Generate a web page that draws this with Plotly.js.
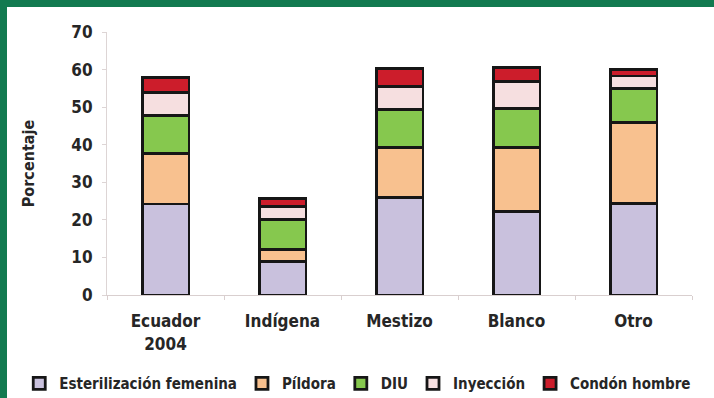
<!DOCTYPE html>
<html>
<head>
<meta charset="utf-8">
<script src="https://cdn.plot.ly/plotly-3.0.1.min.js"></script>
<style>
  html, body { margin: 0; padding: 0; background: #ffffff; }
  #frame {
    position: absolute; left: 0; top: 0; width: 707px; height: 391px;
    border-left: 7px solid #127a50; border-top: 7px solid #127a50;
    background: #ffffff;
  }
  #chart { width: 707px; height: 391px; }
</style>
</head>
<body>
<div id="frame"><div id="chart"></div></div>
<script>
// Uso de métodos anticonceptivos por autoidentificación étnica (%)
const categories = ["Ecuador<br>2004", "Indígena", "Mestizo", "Blanco", "Otro"];
const esterilizacion = [24.2, 9.0, 26.0, 22.2, 24.4];
const pildora        = [13.5, 3.2, 13.3, 17.0, 21.6];
const diu            = [10.0, 7.8, 10.1, 10.5, 9.0];
const inyeccion      = [6.2, 3.5, 6.2, 7.1, 3.3];
const condon         = [4.0, 2.2, 4.7, 3.8, 1.8];
const yTicks = [0, 10, 20, 30, 40, 50, 60, 70];

const FONT = '"DejaVu Sans Condensed", "DejaVu Sans", sans-serif';
const INK = '#262626';

function serie(name, values, color) {
  return {
    type: 'bar', name: name, x: categories, y: values,
    width: 0.4,
    marker: { color: color, line: { color: '#161616', width: 2.8 } },
    hoverinfo: 'name+y'
  };
}

const data = [
  serie('Esterilización femenina', esterilizacion, '#c9c1dd'),
  serie('Píldora', pildora, '#f8c18f'),
  serie('DIU', diu, '#86c84e'),
  serie('Inyección', inyeccion, '#f6dfe0'),
  serie('Condón hombre', condon, '#cc1d2b')
];

const layout = {
  width: 707, height: 391,
  margin: { l: 100, r: 22, t: 25, b: 103, autoexpand: false },
  paper_bgcolor: '#ffffff', plot_bgcolor: '#ffffff',
  barmode: 'stack',
  showlegend: true,
  font: { family: FONT, size: 15, color: INK, weight: 'bold' },
  xaxis: {
    type: 'category', range: [-0.5, 4.5],
    showline: true, linecolor: '#d9cfcf', linewidth: 1,
    ticks: 'outside', tickson: 'boundaries', ticklen: 4, tickcolor: '#d9cfcf',
    ticklabelstandoff: 11,
    showgrid: false, zeroline: false,
    tickfont: { family: FONT, size: 17, color: INK, weight: 'bold' }
  },
  yaxis: {
    range: [0, 70], tickvals: yTicks, ticktext: yTicks.map(String),
    showline: true, linecolor: '#ddd5d5', linewidth: 1,
    ticks: 'outside', ticklen: 4, tickcolor: '#ddd5d5',
    ticklabelstandoff: 6,
    showgrid: false, zeroline: false,
    tickfont: { family: FONT, size: 17, color: INK, weight: 'bold' },
    title: { text: 'Porcentaje', standoff: 32, font: { family: FONT, size: 16, color: INK, weight: 'bold' } }
  },
  legend: {
    orientation: 'h', x: -0.15, xanchor: 'left',
    y: -0.337, yanchor: 'middle',
    font: { family: FONT, size: 15, color: INK, weight: 'bold' },
    itemwidth: 30, tracegroupgap: 0, traceorder: 'normal',
    bgcolor: 'rgba(0,0,0,0)'
  }
};

Plotly.newPlot('chart', data, layout, { displayModeBar: false, staticPlot: true });
</script>
</body>
</html>
